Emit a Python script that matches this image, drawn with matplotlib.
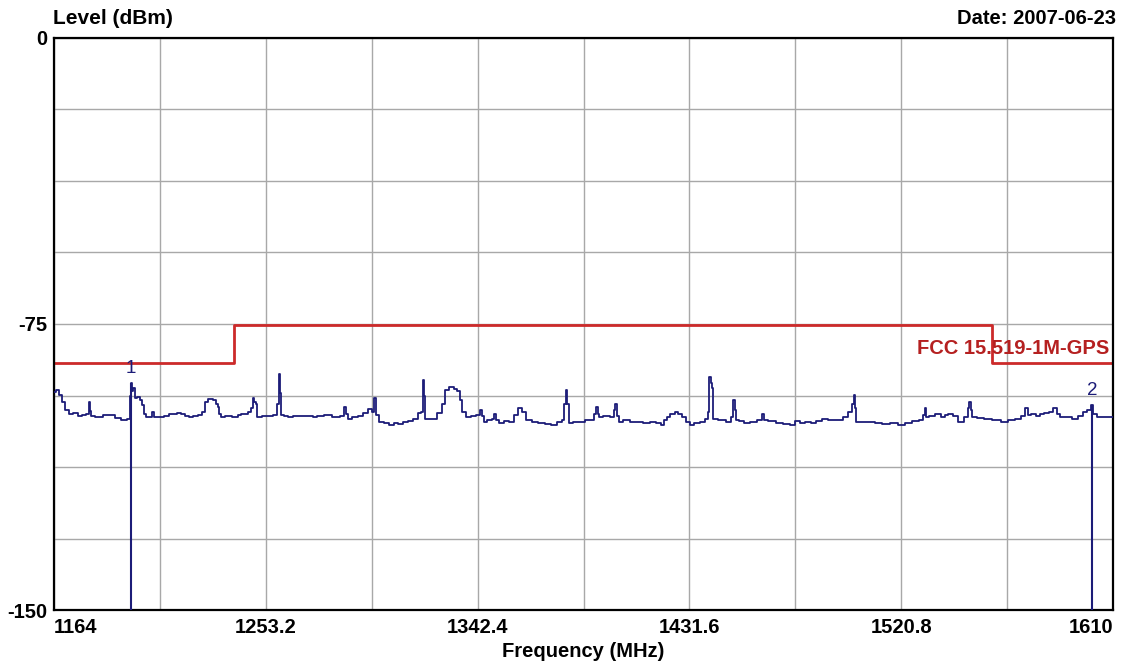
import matplotlib
matplotlib.use('Agg')
import matplotlib.pyplot as plt

plt.rcParams['font.family'] = ['Liberation Sans', 'DejaVu Sans']

# measured trace (MHz, dBm)
trace_freq = [
    1164.0, 1165.4, 1166.5, 1167.9, 1169.5, 1170.7, 1173.0, 1175.0, 1176.3, 1178.3,
    1178.9, 1179.5, 1179.9, 1183.0, 1186.0, 1189.0, 1190.5, 1193.9, 1195.6, 1196.0,
    1196.4, 1197.0, 1197.6, 1198.3, 1199.5, 1200.5, 1201.6, 1202.5, 1203.0, 1205.0,
    1205.8, 1206.5, 1209.0, 1211.5, 1213.0, 1215.0, 1216.5, 1218.5, 1220.0, 1221.3,
    1223.5, 1225.5, 1227.0, 1228.3, 1229.0, 1229.7, 1230.5, 1231.8, 1232.5, 1233.2,
    1234.0, 1234.6, 1237.0, 1240.9, 1242.0, 1243.1, 1245.0, 1246.6, 1247.5, 1248.0,
    1248.7, 1249.3, 1250.0, 1253.0, 1255.0, 1257.8, 1258.4, 1258.9, 1259.4, 1259.9,
    1262.0, 1263.4, 1266.0, 1269.0, 1272.0, 1273.9, 1276.0, 1279.0, 1283.0, 1285.5,
    1286.6, 1287.2, 1288.0, 1291.0, 1293.0, 1295.0, 1297.1, 1298.5, 1299.2, 1299.9,
    1302.1, 1304.0, 1306.2, 1308.0, 1310.0, 1311.8, 1314.0, 1316.0, 1318.2, 1319.0,
    1319.6, 1320.1, 1320.6, 1323.8, 1326.6, 1328.0, 1329.4, 1331.5, 1333.0, 1334.3,
    1335.3, 1336.4, 1338.5, 1340.5, 1342.7, 1343.8, 1344.4, 1345.5, 1347.5, 1349.0,
    1349.7, 1350.5, 1352.6, 1354.5, 1356.8, 1358.5, 1360.3, 1361.5, 1363.8, 1366.5,
    1369.4, 1372.0, 1375.0, 1377.0, 1378.5, 1379.4, 1379.9, 1380.4, 1381.3, 1383.5,
    1386.3, 1389.0, 1391.2, 1392.0, 1392.6, 1393.2, 1394.0, 1396.5, 1399.6, 1400.2,
    1400.7, 1401.3, 1402.4, 1405.0, 1408.0, 1410.8, 1413.5, 1416.5, 1418.5, 1420.6,
    1421.5, 1422.7, 1424.5, 1426.3, 1427.7, 1429.0, 1431.0, 1432.6, 1434.5, 1437.5,
    1439.0, 1439.6, 1440.3, 1440.9, 1441.4, 1442.0, 1445.0, 1448.7, 1449.8, 1450.4,
    1451.0, 1451.5, 1453.5, 1455.7, 1458.5, 1461.5, 1462.5, 1463.3, 1466.0, 1469.8,
    1472.5, 1475.4, 1477.0, 1479.0, 1481.5, 1483.8, 1486.0, 1488.8, 1491.5, 1495.1,
    1497.2, 1499.5, 1500.5, 1501.1, 1501.6, 1502.1, 1505.0, 1508.0, 1511.2, 1514.5,
    1518.0, 1521.0, 1524.0, 1527.0, 1529.5, 1530.5, 1531.1, 1531.8, 1533.5, 1536.5,
    1538.5, 1540.0, 1541.4, 1543.5, 1545.6, 1548.5, 1549.3, 1549.8, 1550.4, 1551.2,
    1554.0, 1557.5, 1561.0, 1564.5, 1567.5, 1570.2, 1572.0, 1573.7, 1574.5, 1576.5,
    1578.5, 1580.0, 1582.1, 1584.0, 1585.6, 1587.0, 1588.4, 1591.0, 1594.1, 1596.5,
    1598.3, 1600.0, 1601.1, 1601.8, 1602.5, 1604.0, 1605.3, 1608.0, 1610.0,
]
trace_level = [
    -92.8, -92.3, -93.5, -95.4, -97.5, -98.7, -98.4, -99.0, -98.9, -98.6,
    -95.4, -97.8, -99.1, -99.3, -98.9, -98.9, -99.6, -100.2, -99.9, -94.0,
    -90.6, -92.5, -91.8, -94.5, -94.1, -95.0, -96.3, -98.5, -99.3, -99.3,
    -98.0, -99.3, -99.4, -99.0, -98.5, -98.7, -98.3, -98.6, -99.1, -99.3,
    -99.2, -98.9, -98.0, -95.4, -94.6, -94.7, -94.6, -95.0, -96.0, -96.7,
    -98.5, -99.3, -99.0, -99.3, -98.8, -98.5, -98.6, -98.2, -97.0, -94.5,
    -95.5, -96.0, -99.3, -99.0, -99.1, -98.9, -96.0, -88.0, -93.0, -98.9,
    -99.0, -99.3, -99.0, -99.2, -99.0, -99.3, -99.0, -98.9, -99.3, -99.0,
    -96.7, -98.5, -99.9, -99.5, -99.2, -98.4, -97.3, -98.0, -94.3, -98.8,
    -100.6, -101.0, -101.5, -101.0, -101.2, -100.6, -100.5, -99.9, -98.4, -98.0,
    -89.7, -94.0, -99.9, -99.9, -98.4, -96.0, -92.3, -91.5, -92.0, -92.6,
    -95.0, -98.0, -99.3, -99.1, -98.9, -97.6, -99.0, -100.6, -100.1, -99.9,
    -98.6, -100.2, -100.9, -100.5, -100.6, -98.8, -97.1, -98.0, -100.2, -100.6,
    -100.9, -101.3, -101.5, -100.8, -100.2, -96.0, -92.3, -96.0, -100.9, -100.6,
    -100.6, -100.2, -100.2, -98.5, -96.7, -98.5, -99.3, -99.2, -99.3, -97.5,
    -96.1, -99.0, -100.6, -100.3, -100.6, -100.6, -100.9, -100.7, -101.0, -101.5,
    -100.2, -99.3, -98.6, -98.0, -98.5, -99.3, -100.7, -101.5, -101.0, -100.6,
    -99.8, -98.0, -88.8, -90.5, -91.7, -99.9, -100.2, -100.6, -99.5, -95.0,
    -97.5, -100.2, -100.5, -100.9, -100.7, -100.2, -98.6, -100.2, -100.4, -100.9,
    -101.2, -101.5, -100.5, -101.0, -100.7, -100.9, -100.4, -99.9, -100.2, -100.2,
    -99.3, -98.2, -96.0, -93.6, -97.0, -100.6, -100.8, -100.6, -100.9, -101.2,
    -101.0, -101.5, -100.9, -100.4, -100.2, -98.8, -97.1, -99.5, -99.0, -98.5,
    -99.3, -98.8, -98.5, -99.2, -100.6, -99.5, -97.0, -95.4, -97.5, -99.3,
    -99.6, -99.9, -100.3, -100.6, -100.2, -99.9, -99.0, -97.1, -98.8, -98.5,
    -99.2, -98.5, -98.3, -98.0, -97.1, -98.5, -99.3, -99.4, -99.9, -99.2,
    -98.2, -97.5, -96.3, -98.5, -98.5, -99.3, -99.3, -99.5, -99.3,
]

# FCC 15.519 limit mask
limit_freq = [1164, 1240, 1559, 1610]
limit_level = [-85.3, -75.3, -85.3, -85.3]
limit_name = 'FCC 15.519-1M-GPS'

# markers
marker_names = ['1', '2']
marker_freq = [1196.4, 1601.1]
marker_level = [-90.6, -96.3]

f_min, f_max = 1164, 1610
db_min, db_max = -150, 0
x_labels = ['1164', '', '1253.2', '', '1342.4', '', '1431.6', '', '1520.8', '', '1610']
y_labels = ['-150', '', '', '', '-75', '', '', '', '0']

trace_color = '#1c1c78'
limit_color = '#cc2a2a'

fig = plt.figure(figsize=(11.38, 6.64), dpi=100)
ax = fig.add_axes([0.0475, 0.0813, 0.9305, 0.8615])

ax.plot(trace_freq, trace_level, color=trace_color, lw=1.3, drawstyle='steps-mid', zorder=3)
ax.plot(limit_freq, limit_level, color=limit_color, lw=2, drawstyle='steps-post', zorder=2)
ax.vlines(marker_freq, db_min, marker_level, color=trace_color, lw=1.5, zorder=3)
for name, f, lv in zip(marker_names, marker_freq, marker_level):
    ax.text(f, lv + 3.8, name, color=trace_color, fontsize=13.5,
            ha='center', va='center', zorder=4)

ax.text(f_max - 1.5, limit_level[-1] + 4, limit_name, color='#b52020',
        fontsize=14.5, fontweight='bold', ha='right', va='center', zorder=4)

ax.set_xlim(f_min, f_max)
ax.set_ylim(db_min, db_max)
step_f = (f_max - f_min) / 10
ax.set_xticks([f_min + i * step_f for i in range(11)])
ax.set_xticklabels(x_labels, fontsize=14.5, fontweight='bold')
step_db = (db_max - db_min) / 8
ax.set_yticks([db_min + i * step_db for i in range(9)])
ax.set_yticklabels(y_labels, fontsize=14.5, fontweight='bold')
xl = ax.get_xticklabels()
xl[0].set_ha('left')
xl[-1].set_ha('right')
ax.tick_params(length=0)
ax.tick_params(axis='x', pad=6)
ax.tick_params(axis='y', pad=5)
ax.grid(True, color='#a8a8a8', lw=1)
for s in ax.spines.values():
    s.set_linewidth(1.6)
    s.set_color('black')

ax.set_xlabel('Frequency (MHz)', fontsize=14.5, fontweight='bold', labelpad=3)
fig.text(0.0465, 0.972, 'Level (dBm)', fontsize=15, fontweight='bold', ha='left', va='center')
fig.text(0.981, 0.972, 'Date: 2007-06-23', fontsize=14.5, fontweight='bold', ha='right', va='center')

plt.savefig('out.png', dpi=100)
